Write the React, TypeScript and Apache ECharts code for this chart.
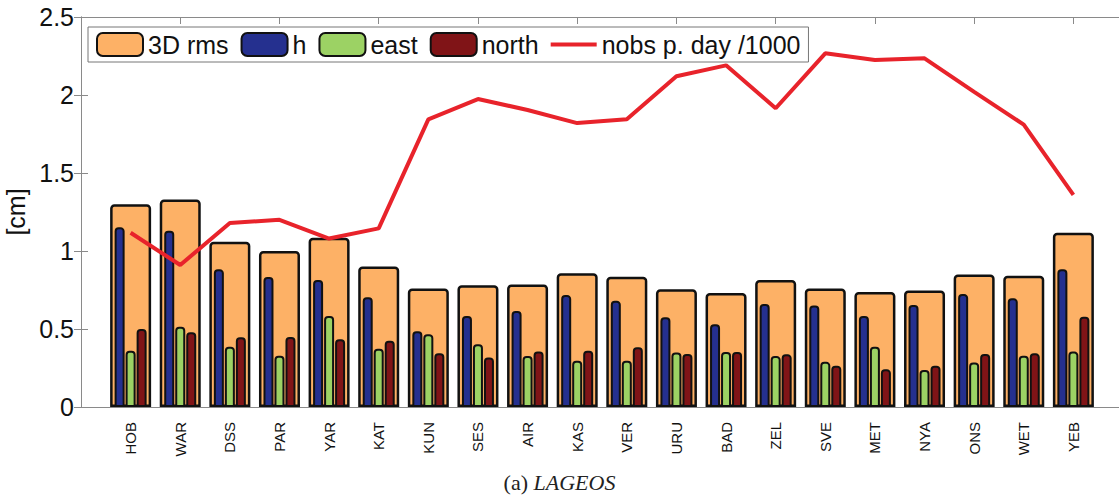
import React, { useEffect, useRef } from "react";
import * as echarts from "echarts";

const categories = ["HOB", "WAR", "DSS", "PAR", "YAR", "KAT", "KUN", "SES", "AIR", "KAS", "VER", "URU", "BAD", "ZEL", "SVE", "MET", "NYA", "ONS", "WET", "YEB"];
const rms3d = [1.30, 1.33, 1.06, 1.00, 1.085, 0.90, 0.76, 0.78, 0.786, 0.857, 0.835, 0.755, 0.73, 0.814, 0.76, 0.737, 0.746, 0.85, 0.842, 1.117];
const hValues = [1.152, 1.13, 0.883, 0.833, 0.814, 0.703, 0.485, 0.583, 0.615, 0.718, 0.681, 0.575, 0.53, 0.66, 0.65, 0.583, 0.654, 0.724, 0.697, 0.883];
const eastValues = [0.361, 0.515, 0.387, 0.329, 0.583, 0.374, 0.467, 0.402, 0.327, 0.297, 0.297, 0.35, 0.353, 0.327, 0.29, 0.387, 0.237, 0.286, 0.329, 0.355];
const northValues = [0.5, 0.479, 0.447, 0.449, 0.434, 0.425, 0.344, 0.318, 0.355, 0.361, 0.383, 0.34, 0.353, 0.338, 0.265, 0.242, 0.265, 0.34, 0.344, 0.579];
const nobsValues = [1.117, 0.91, 1.18, 1.2, 1.08, 1.145, 1.844, 1.974, 1.904, 1.82, 1.844, 2.12, 2.19, 1.915, 2.267, 2.224, 2.235, 2.02, 1.81, 1.36];
const yTicks = [0, 0.5, 1, 1.5, 2, 2.5];

const pts = (arr: number[]) => arr.map((v, i) => [i + 1, v]);

export default function App() {
  const ref = useRef<HTMLDivElement>(null);
  useEffect(() => {
    document.body.style.margin = "0";
    const chart = echarts.init(ref.current!, null, { renderer: "svg" });
    const frame = "#8a8a8a";
    const font = "'Liberation Sans', Arial, sans-serif";
    const barBorder = { borderColor: "#111", borderWidth: 2, borderRadius: [3, 3, 0, 0] };
    chart.setOption({
      animation: false,
      backgroundColor: "#fff",
      grid: { left: 81, right: -4, top: 17, height: 390, containLabel: false, outerBoundsMode: "none" },
      legend: {
        left: 88,
        top: 27,
        padding: [5, 8, 5, 8],
        backgroundColor: "#fff",
        borderColor: "#777",
        borderWidth: 1,
        itemWidth: 46,
        itemHeight: 23,
        itemGap: 12,
        textStyle: { fontSize: 25, color: "#111", fontFamily: font },
        data: [
          "3D rms",
          "h",
          "east",
          "north",
          { name: "nobs p. day /1000", icon: "path://M0,0H46V4H0Z", itemStyle: { color: "#E8232B" } },
        ],
      },
      xAxis: [
        {
          type: "value", min: 0, max: 21, interval: 2, position: "bottom",
          axisLine: { show: true, lineStyle: { color: frame, width: 1 } },
          axisTick: { show: false },
          axisLabel: { show: false },
          splitLine: { show: false },
        },
        {
          type: "value", min: 0, max: 21, interval: 1, position: "bottom",
          axisLine: { show: false },
          axisTick: { show: false },
          splitLine: { show: false },
          axisLabel: {
            show: true, rotate: 90, margin: 15, fontSize: 15, fontFamily: font, color: "#111",
            formatter: (v: number) => (Number.isInteger(v) && v >= 1 && v <= categories.length ? categories[v - 1] : ""),
          },
        },
        {
          type: "value", min: 0, max: 21, interval: 2, position: "top",
          axisLine: { show: true, lineStyle: { color: frame, width: 1 } },
          axisTick: { show: true, inside: true, length: 7, lineStyle: { color: frame } },
          axisLabel: { show: false },
          splitLine: { show: false },
        },
      ],
      yAxis: [
        {
          type: "value", min: 0, max: 2.5, interval: 0.5, position: "left",
          name: "[cm]", nameLocation: "middle", nameGap: 48,
          nameTextStyle: { fontSize: 25, color: "#111", fontFamily: font },
          axisLine: { show: true, lineStyle: { color: frame, width: 1 } },
          axisTick: { show: true, inside: true, length: 7, lineStyle: { color: frame } },
          axisLabel: {
            fontSize: 25, color: "#111", fontFamily: font, margin: 7,
            formatter: (v: number) => (yTicks.includes(v) ? String(v) : ""),
          },
          splitLine: { show: false },
        },
        {
          type: "value", min: 0, max: 2.5, interval: 0.5, position: "right",
          axisLine: { show: true, lineStyle: { color: frame, width: 1 } },
          axisTick: { show: true, inside: true, length: 7, lineStyle: { color: frame } },
          axisLabel: { show: false },
          splitLine: { show: false },
        },
      ],
      series: [
        {
          name: "3D rms", type: "bar", xAxisIndex: 2, yAxisIndex: 0, barWidth: 41, z: 2,
          itemStyle: { color: "#FDB166", ...barBorder, borderWidth: 2.5 },
          data: pts(rms3d),
        },
        {
          name: "h", type: "bar", xAxisIndex: 0, yAxisIndex: 0, barWidth: 10, barGap: "10%", z: 3,
          itemStyle: { color: "#25308F", ...barBorder },
          data: pts(hValues),
        },
        {
          name: "east", type: "bar", xAxisIndex: 0, yAxisIndex: 0, barWidth: 10, barGap: "10%", z: 3,
          itemStyle: { color: "#9CD264", ...barBorder },
          data: pts(eastValues),
        },
        {
          name: "north", type: "bar", xAxisIndex: 0, yAxisIndex: 0, barWidth: 10, barGap: "10%", z: 3,
          itemStyle: { color: "#801417", ...barBorder },
          data: pts(northValues),
        },
        {
          name: "nobs p. day /1000", type: "line", xAxisIndex: 0, yAxisIndex: 0, z: 5,
          symbol: "none",
          lineStyle: { color: "#E8232B", width: 4 },
          itemStyle: { color: "#E8232B" },
          data: pts(nobsValues),
        },
      ],
      graphic: [
        {
          type: "text", left: "center", top: 471,
          style: {
            rich: {
              n: { fontFamily: "'Liberation Serif', 'DejaVu Serif', serif", fontSize: 22, fill: "#222" },
              i: { fontFamily: "'Liberation Serif', 'DejaVu Serif', serif", fontSize: 22, fontStyle: "italic", fill: "#222" },
            },
            text: "{n|(a) }{i|LAGEOS}",
          },
        },
      ],
    });
    return () => chart.dispose();
  }, []);
  return <div ref={ref} style={{ width: 1119, height: 498 }} />;
}
